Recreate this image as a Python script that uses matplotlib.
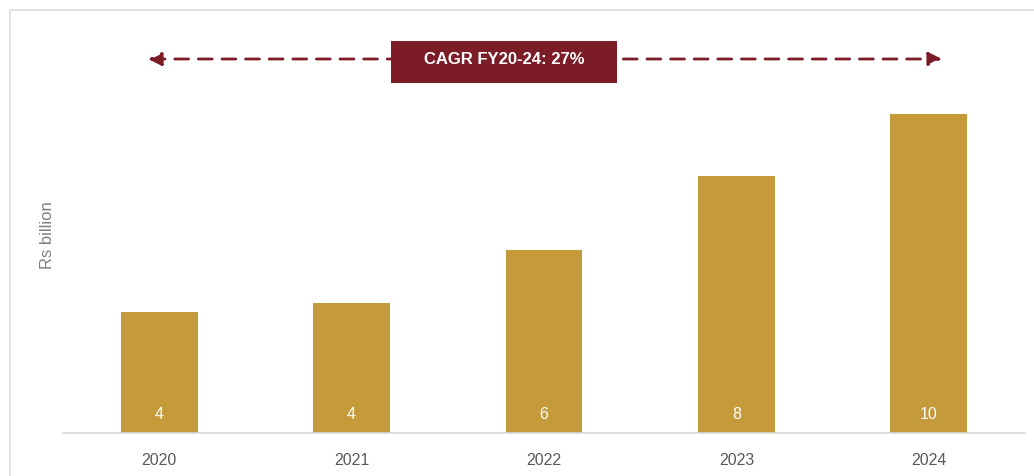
import matplotlib.pyplot as plt
from matplotlib.lines import Line2D
from matplotlib.patches import Rectangle

plt.rcParams['font.family'] = ['Liberation Sans', 'DejaVu Sans']

# data
years = ['2020', '2021', '2022', '2023', '2024']
values = [3.9, 4.2, 5.9, 8.3, 10.3]
labels = ['4', '4', '6', '8', '10']
cagr_text = 'CAGR FY20-24: 27%'

bar_color = '#C59A3B'
maroon = '#7B1C27'

fig = plt.figure(figsize=(10.34, 4.77), dpi=100)
ax = fig.add_axes([63 / 1034, 43 / 477, 962 / 1034, 423 / 477])

x = range(len(years))
ax.bar(x, values, width=0.4, color=bar_color)
for i, v in enumerate(values):
    ax.text(i, 0.62, labels[i], ha='center', va='center', color='white', fontsize=11.5)

ax.set_xlim(-0.5, 4.5)
ax.set_ylim(0, 13.65)
ax.set_xticks(list(x))
ax.set_xticklabels(years, fontsize=11.5, color='#595959')
ax.tick_params(axis='x', length=0, pad=14)
ax.set_yticks([])
for s in ['top', 'right', 'left']:
    ax.spines[s].set_visible(False)
ax.spines['bottom'].set_color('#d9d9d9')
ax.spines['bottom'].set_linewidth(1.2)

# y label
fig.text(48 / 1034, 1 - 235 / 477, 'Rs billion', rotation=90, ha='center', va='center',
         fontsize=12, color='#7f7f7f')

# CAGR arrow
ay = 1 - 60 / 477
ax.annotate('', xy=(942 / 1034, ay), xytext=(148 / 1034, ay), xycoords='figure fraction',
            textcoords='figure fraction',
            arrowprops=dict(arrowstyle='<|-|>', color=maroon, lw=2, linestyle=(0, (5, 3.5)),
                            mutation_scale=20, shrinkA=0, shrinkB=0))
fig.add_artist(Rectangle((391 / 1034, 1 - 84 / 477), 226 / 1034, 42 / 477,
                         transform=fig.transFigure, fc=maroon, ec='none', zorder=5))
fig.text(504 / 1034, ay, cagr_text, ha='center', va='center', color='white', fontsize=12,
         fontweight='bold', zorder=6)

# outer frame
fig.add_artist(Line2D([10 / 1034, 1], [1 - 11 / 477] * 2, color='#e3e3e3', lw=1.5,
                      transform=fig.transFigure))
fig.add_artist(Line2D([10 / 1034] * 2, [0, 1 - 11 / 477], color='#e3e3e3', lw=1.5,
                      transform=fig.transFigure))

fig.savefig('out.png', dpi=100)
